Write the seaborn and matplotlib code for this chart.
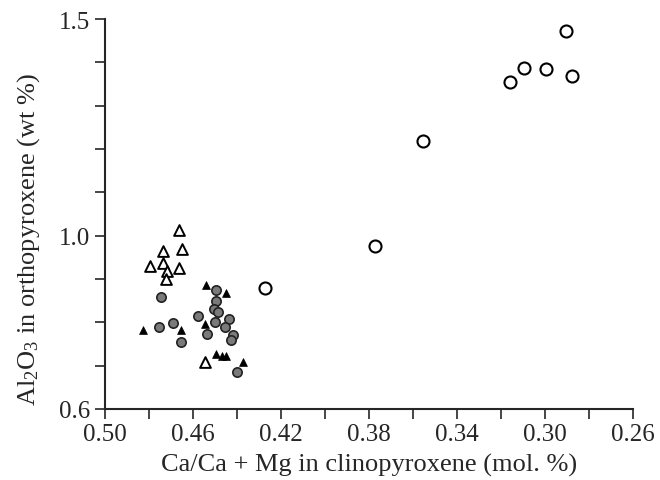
import pandas as pd
import matplotlib
matplotlib.use("Agg")
import matplotlib.pyplot as plt
from matplotlib.ticker import FixedLocator, MultipleLocator
import seaborn as sns

# values
open_circle_x = [0.2904, 0.3093, 0.2995, 0.3157, 0.2877, 0.3554, 0.3773, 0.4274]
open_circle_y = [1.473, 1.387, 1.385, 1.354, 1.369, 1.218, 0.975, 0.879]

open_tri_x = [0.4662, 0.4734, 0.4651, 0.4795, 0.4734, 0.4663, 0.4719, 0.4722, 0.4546]
open_tri_y = [1.012, 0.965, 0.969, 0.929, 0.937, 0.925, 0.918, 0.900, 0.709]

filled_tri_x = [0.4541, 0.4452, 0.4829, 0.4654, 0.4543, 0.4372, 0.4493, 0.4470, 0.4448]
filled_tri_y = [0.887, 0.867, 0.781, 0.783, 0.795, 0.709, 0.727, 0.723, 0.723]

gray_circle_x = [0.4745, 0.4496, 0.4493, 0.4505, 0.4485, 0.4579, 0.4435, 0.4500,
                 0.4455, 0.4537, 0.4417, 0.4428, 0.4754, 0.4692, 0.4654, 0.4398]
gray_circle_y = [0.859, 0.875, 0.848, 0.831, 0.823, 0.815, 0.808, 0.800,
                 0.789, 0.773, 0.771, 0.758, 0.790, 0.798, 0.755, 0.685]

x_ticks = [0.50, 0.46, 0.42, 0.38, 0.34, 0.30, 0.26]
y_ticks = [0.6, 1.0, 1.5]

sns.set_style("ticks")
plt.rcParams["font.family"] = ["Liberation Serif", "DejaVu Serif"]
plt.rcParams["mathtext.default"] = "regular"

fig = plt.figure(figsize=(6.6, 4.81), dpi=100)
ax = fig.add_axes([0.159, 0.148, 0.8, 0.81])

sns.scatterplot(x=open_circle_x, y=open_circle_y, ax=ax, marker="o", s=75,
                facecolor="white", edgecolor="black", linewidth=1.5)
sns.scatterplot(x=open_tri_x, y=open_tri_y, ax=ax, marker="^", s=60,
                facecolor="white", edgecolor="black", linewidth=1.4)
sns.scatterplot(x=gray_circle_x, y=gray_circle_y, ax=ax, marker="o", s=45,
                facecolor="#7a7a7a", edgecolor="#222222", linewidth=1.2)
sns.scatterplot(x=filled_tri_x, y=filled_tri_y, ax=ax, marker="^", s=32,
                color="black", edgecolor="black", linewidth=0.5)

ax.set_xlim(0.50, 0.26)
ax.set_ylim(0.6, 1.5)
ax.xaxis.set_major_locator(FixedLocator(x_ticks))
ax.xaxis.set_minor_locator(MultipleLocator(0.02))
ax.yaxis.set_major_locator(FixedLocator(y_ticks))
ax.yaxis.set_minor_locator(MultipleLocator(0.1))
ax.set_xticklabels([f"{v:.2f}" for v in x_ticks])
ax.set_yticklabels([f"{v:.1f}" for v in y_ticks])
ax.tick_params(which="both", length=7, width=1.2, labelsize=18, direction="out")
ax.tick_params(axis="x", pad=3)

sns.despine(ax=ax)
for side in ["left", "bottom"]:
    ax.spines[side].set_linewidth(1.5)

ax.set_xlabel("Ca/Ca + Mg in clinopyroxene (mol. %)", fontsize=19, labelpad=6)
ax.set_ylabel(r"Al$_2$O$_3$ in orthopyroxene (wt %)", fontsize=19)
ax.yaxis.set_label_coords(-0.12, 0.436)

fig.savefig("out.png", dpi=100, facecolor="white")
